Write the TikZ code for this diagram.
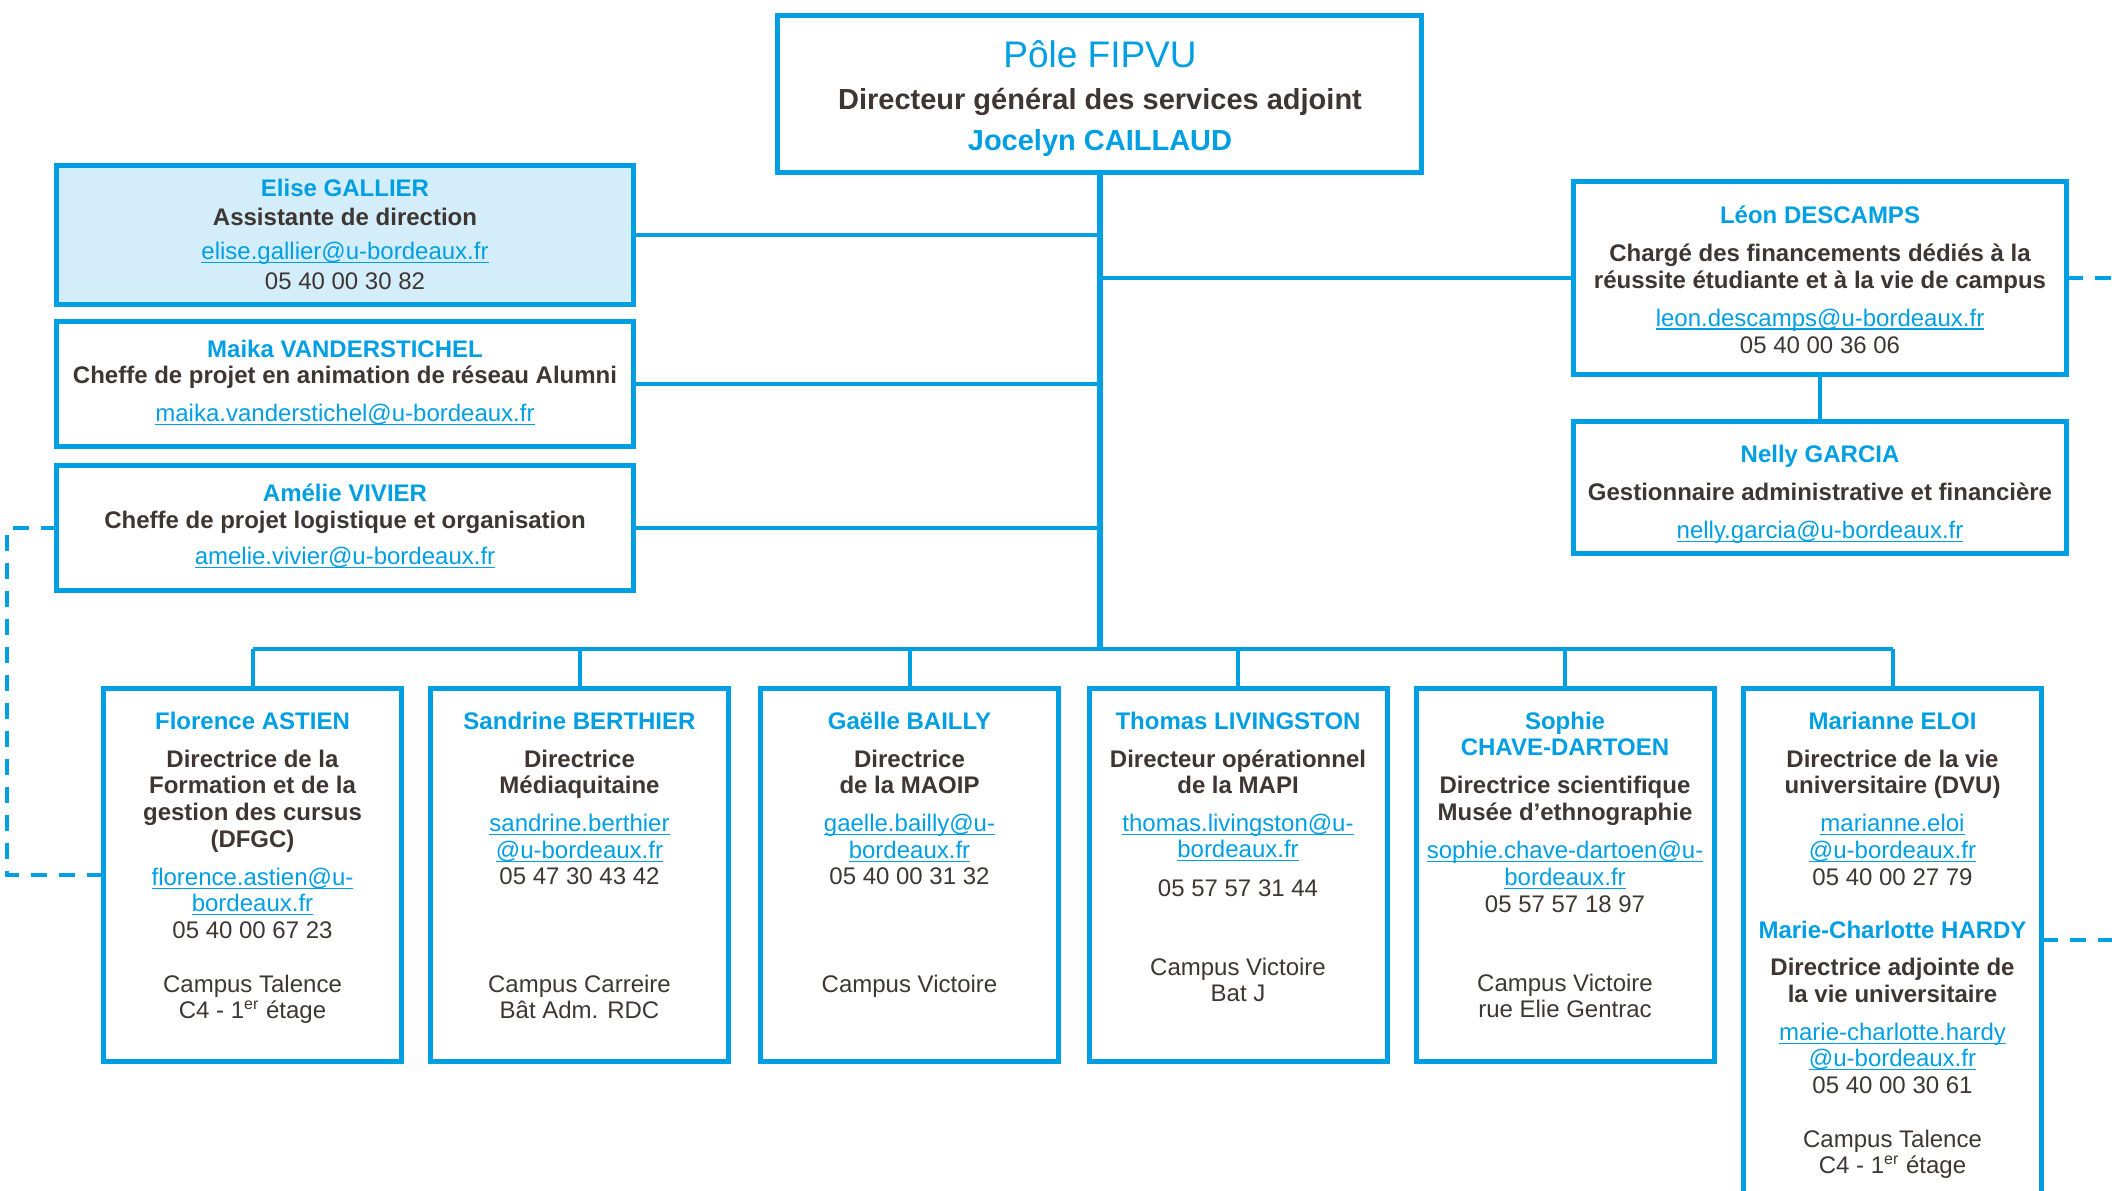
\documentclass[tikz,border=0pt]{standalone}
\usepackage{fontspec}
\setmainfont{Liberation Sans}
\usepackage{tikz}
\usepackage{xcolor}

\definecolor{ubblue}{HTML}{009FE3}
\definecolor{ubtext}{HTML}{3D3633}
\definecolor{ubfill}{HTML}{D3EEFA}

\newcommand\pers[1]{{\bfseries\color{ubblue}#1}}
\newcommand\fonction[1]{{\bfseries#1}}
\newcommand\courriel[1]{{\color{ubblue}\setbox0\hbox{#1}\rlap{\rule[-1.8pt]{\wd0}{0.6pt}}\box0}}

\begin{document}
\begin{tikzpicture}[x=0.5pt,y=0.5pt,
    boite/.style={draw=ubblue,line width=2.5pt,inner sep=0pt,outer sep=0pt},
    bas/.style={boite,minimum width=149pt,minimum height=186.5pt},
    texte/.style={align=center,inner sep=0pt,anchor=north,text=ubtext,
        font=\fontsize{12pt}{13pt}\selectfont,execute at begin node=\strut},
    lien/.style={draw=ubblue,line width=2pt},
    tronc/.style={draw=ubblue,line width=3pt},
    pointille/.style={draw=ubblue,line width=2pt,dash pattern=on 8pt off 6pt}]
        \useasboundingbox (0,0) rectangle (2112,-1190);
        \clip (0,0) rectangle (2112,-1190);

        % Direction du pole
        \node[boite,minimum width=322pt,minimum height=78.5pt] (pole) at (1099.5,-94) {};
        \node[anchor=base,inner sep=0pt,text=ubblue,font=\fontsize{18.5pt}{22pt}\selectfont] (poletitre) at (1100,-67) {Pôle FIPVU};
        \node[anchor=base,inner sep=0pt,text=ubtext,font=\bfseries\fontsize{14.5pt}{16pt}\selectfont] (poleposte) at (1100,-109) {Directeur général des services adjoint};
        \node[anchor=base,inner sep=0pt,text=ubblue,font=\bfseries\fontsize{14.5pt}{17pt}\selectfont] (polenom) at (1100,-150) {Jocelyn CAILLAUD};

        % Cellule de direction (gauche)
        \node[boite,fill=ubfill,minimum width=288.5pt,minimum height=69.5pt] (gallier) at (345,-235) {};
        \node[texte] at (345,-178.5) {\pers{Elise GALLIER}\\[1.8pt] \fonction{Assistante de direction}\\[3.8pt]
            \courriel{elise.gallier@u-bordeaux.fr}\\[1.8pt] 05 40 00 30 82};

        \node[boite,minimum width=288.5pt,minimum height=62.5pt] (vanderstichel) at (345,-384) {};
        \node[texte] at (345,-340) {\pers{Maika VANDERSTICHEL}\\ \fonction{Cheffe de projet en animation de réseau Alumni}\\[5.9pt]
            \courriel{maika.vanderstichel@u-bordeaux.fr}};

        \node[boite,minimum width=288.5pt,minimum height=62.5pt] (vivier) at (345,-528) {};
        \node[texte] at (345,-483) {\pers{Amélie VIVIER}\\[0.5pt] \fonction{Cheffe de projet logistique et organisation}\\[5.2pt]
            \courriel{amelie.vivier@u-bordeaux.fr}};

        % Financements (droite)
        \node[boite,minimum width=246.5pt,minimum height=96.5pt] (descamps) at (1820,-278) {};
        \node[texte] at (1820,-205.4) {\pers{Léon DESCAMPS}\\[5.9pt] \fonction{Chargé des financements dédiés à la}\\[0.5pt]
            \fonction{réussite étudiante et à la vie de campus}\\[5.9pt] \courriel{leon.descamps@u-bordeaux.fr}\\[0.5pt] 05 40 00 36 06};

        \node[boite,minimum width=246.5pt,minimum height=66pt] (garcia) at (1820,-487.5) {};
        \node[texte] at (1820,-445) {\pers{Nelly GARCIA}\\[5.9pt] \fonction{Gestionnaire administrative et financière}\\[5.9pt]
            \courriel{nelly.garcia@u-bordeaux.fr}};

        % Directions rattachees
        \node[bas] (astien) at (252.5,-875) {};
        \node[texte] at (252.5,-712) {\pers{Florence ASTIEN}\\[5.9pt] \fonction{Directrice de la}\\ \fonction{Formation et de la}\\[0.5pt]
            \fonction{gestion des cursus}\\[0.5pt] \fonction{(DFGC)}\\[5.9pt] \courriel{florence.astien@u-}\\ \courriel{bordeaux.fr}\\[0.5pt]
            05 40 00 67 23\\[13.9pt] Campus Talence\\ C4 - 1\textsuperscript{er} étage};

        \node[bas] (berthier) at (579.5,-875) {};
        \node[texte] at (579.5,-712) {\pers{Sandrine BERTHIER}\\[5.9pt] \fonction{Directrice}\\ \fonction{Médiaquitaine}\\[5.9pt]
            \courriel{sandrine.berthier}\\[0.5pt] \courriel{@u-bordeaux.fr}\\ 05 47 30 43 42\\[40.9pt] Campus Carreire\\ Bât Adm. RDC};

        \node[bas] (bailly) at (909.5,-875) {};
        \node[texte] at (909.5,-712) {\pers{Gaëlle BAILLY}\\[5.9pt] \fonction{Directrice}\\ \fonction{de la MAOIP}\\[5.9pt]
            \courriel{gaelle.bailly@u-}\\[0.5pt] \courriel{bordeaux.fr}\\ 05 40 00 31 32\\[40.9pt] Campus Victoire};

        \node[bas] (livingston) at (1238,-875) {};
        \node[texte] at (1238,-712) {\pers{Thomas LIVINGSTON}\\[5.9pt] \fonction{Directeur opérationnel}\\ \fonction{de la MAPI}\\[5.9pt]
            \courriel{thomas.livingston@u-}\\ \courriel{bordeaux.fr}\\[6.5pt] 05 57 57 31 44\\[26.7pt] Campus Victoire\\ Bat J};

        \node[bas] (chave) at (1565,-875) {};
        \node[texte] at (1565,-712) {\pers{Sophie}\\ \pers{CHAVE-DARTOEN}\\[5.9pt] \fonction{Directrice scientifique}\\[0.5pt]
            \fonction{Musée d’ethnographie}\\[5.9pt] \courriel{sophie.chave-dartoen@u-}\\[0.5pt] \courriel{bordeaux.fr}\\[0.5pt]
            05 57 57 18 97\\[26.7pt] Campus Victoire\\ rue Elie Gentrac};

        \node[bas,minimum height=274.5pt] (eloi) at (1892.5,-963) {};
        \node[texte] at (1892.5,-712) {\pers{Marianne ELOI}\\[5.9pt] \fonction{Directrice de la vie}\\ \fonction{universitaire (DVU)}\\[5.9pt]
            \courriel{marianne.eloi}\\[0.5pt] \courriel{@u-bordeaux.fr}\\[0.5pt] 05 40 00 27 79\\[13.3pt]
            \pers{Marie-Charlotte HARDY}\\[5.9pt] \fonction{Directrice adjointe de}\\[0.5pt] \fonction{la vie universitaire}\\[5.9pt]
            \courriel{marie-charlotte.hardy}\\ \courriel{@u-bordeaux.fr}\\[0.5pt] 05 40 00 30 61\\[13.9pt]
            Campus Talence\\ C4 - 1\textsuperscript{er} étage};

        % Liaisons
        \coordinate (bus) at (1100,-649);
        \coordinate (bordG) at (7,0);
        \coordinate (bordD) at (2112,0);
        \coordinate (eloiD) at (2112,-940);
        \draw[tronc] (pole.south) -- (pole.south |- bus);
        \draw[lien] (astien.north |- bus) -- (eloi.north |- bus);
        \foreach \n in {astien,berthier,bailly,livingston,chave,eloi}
            \draw[lien] (\n.north) -- (\n.north |- bus);
        \foreach \n in {gallier,vanderstichel,vivier}
            \draw[lien] (\n.east) -- (\n.east -| pole.south);
        \draw[lien] (descamps.west) -- (descamps.west -| pole.south);
        \draw[lien] (descamps.south) -- (garcia.north);

        % Liens fonctionnels
        \draw[pointille] (vivier.west) -- (vivier.west -| bordG) -- (astien.west -| bordG) -- (astien.west);
        \draw[pointille] (descamps.east) -- (descamps.east -| bordD);
        \draw[pointille] (eloiD -| eloi.east) -- (eloiD);
    \end{tikzpicture}
\end{document}
